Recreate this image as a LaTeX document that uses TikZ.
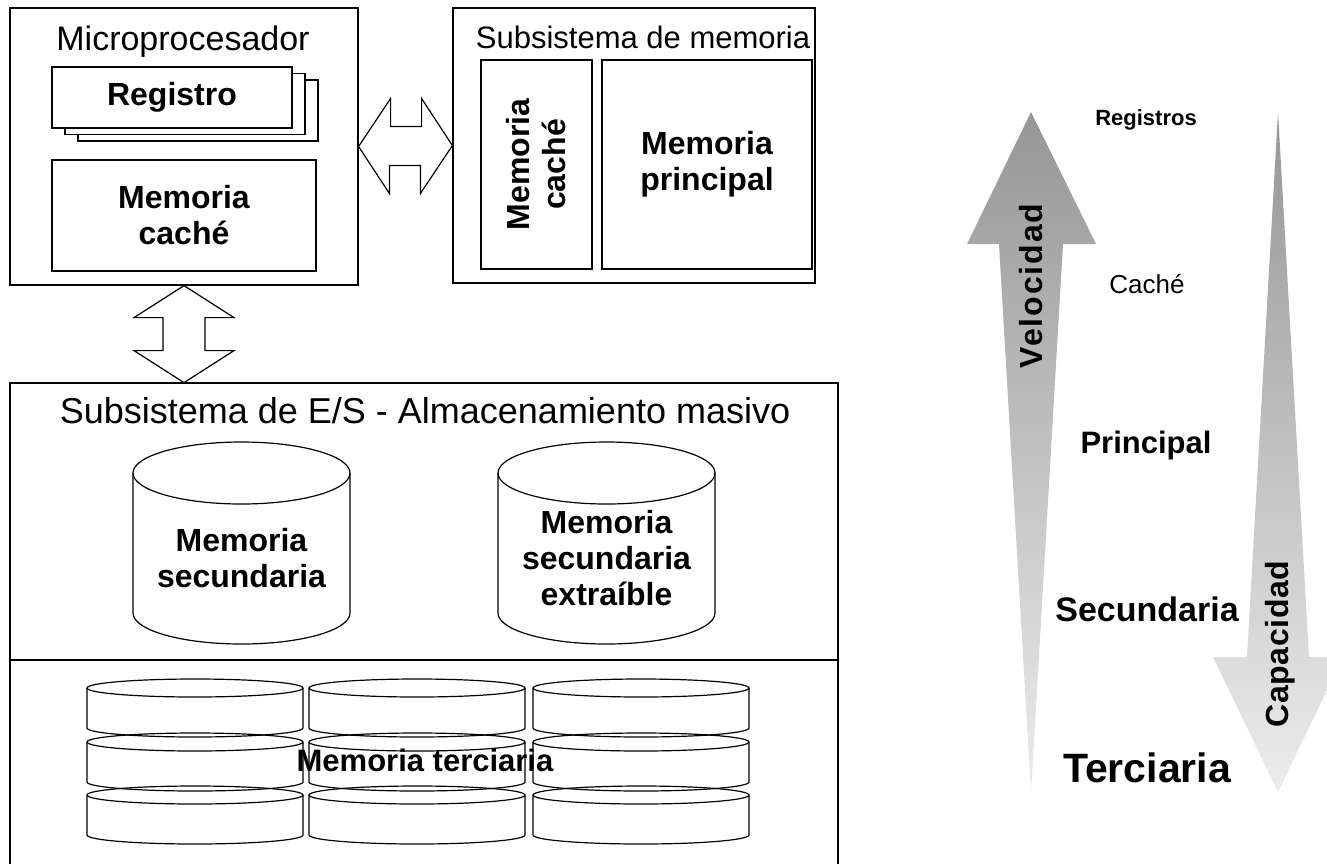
\documentclass[tikz,border=0pt]{standalone}
\usepackage{fontspec}
\setmainfont{Liberation Sans}
\usetikzlibrary{shadows}

\definecolor{grisoscuro}{RGB}{150,150,150}
\definecolor{grisclaro}{RGB}{236,236,236}

% cx, y top, y bottom, rx, ry
\newcommand{\disco}[5]{%
  \draw (#1,#2) ellipse [x radius=#4, y radius=#5];
  \draw (#1-#4,#2) -- (#1-#4,#3)
     arc[start angle=180, end angle=0, x radius=#4, y radius=#5] -- (#1+#4,#2);
}

\begin{document}
\begin{tikzpicture}[x=1pt,y=-1pt,line width=1.2pt,
   box/.style={rectangle,draw,inner sep=0pt},
   title/.style={anchor=base,font=\fontsize{#1}{#1}\selectfont},
   txt/.style={align=center,font=\bfseries\fontsize{32}{36}\selectfont},
   lbl/.style={anchor=base,font=\bfseries\fontsize{#1}{#1}\selectfont}
    ]
  \clip (0,0) rectangle (1327,863);

  % -- microprocesador
  \node[box, minimum width=348, minimum height=277] at (184,146.5) (micro) {};
  \node[title=34] at (183,50) (microtit) {Microprocesador};
  \node[box, txt, fill=white, minimum width=240, minimum height=61,
    double copy shadow={shadow xshift=13pt,shadow yshift=-6.5pt,fill=white,draw=black}]
    at (172,97.5) (reg) {Registro};
  \node[box, txt, minimum width=264, minimum height=111] at (184,215.5) (cache) {Memoria\\caché};

  % -- subsistema de memoria
  \node[box, minimum width=362, minimum height=275] at (634,145.5) (memsub) {};
  \node[title=31] at (643,48) (memtit) {Subsistema de memoria};
  \node[box, minimum width=111, minimum height=209] at (536.5,164.5) (cachev) {};
  \node[txt, rotate=90] at (cachev) (cachevtxt) {Memoria\\caché};
  \node[box, txt, minimum width=210, minimum height=209] at (707,164.5) (ppal) {Memoria\\principal};

  % -- buses
  \draw (micro.east) -- ++(32,-48) -- ++(0,28) -- ++(31,0) -- ++(0,-28) -- (memsub.west)
     -- ++(-32,48) -- ++(0,-28) -- ++(-31,0) -- ++(0,28) -- cycle;
  \draw (micro.south) -- ++(50,32) -- ++(-29,0) -- ++(0,33) -- ++(29,0) -- ++(-50,32)
     -- ++(-50,-32) -- ++(29,0) -- ++(0,-33) -- ++(-29,0) -- cycle;

  % -- subsistema de E/S
  \node[box, minimum width=828, minimum height=520] at (424,643) (es) {};
  \node[title=36] at (425,423) (estit) {Subsistema de E/S - Almacenamiento masivo};
  \draw (es.west |- 0,660) -- (es.east |- 0,660);

  \disco{241.5}{473}{613}{108.5}{31}
  \disco{606.5}{473}{613}{108.5}{31}
  \node[txt] at (241.5,558) (sec) {Memoria\\secundaria};
  \node[txt] at (606.5,558) (secx) {Memoria\\secundaria\\extraíble};

  % -- terciaria
  \foreach \cx in {195,417,641}
    \foreach \ty in {688,742,795}
      {\disco{\cx}{\ty}{\ty+40}{108}{9}}
  \node[txt, font=\bfseries\fontsize{31}{36}\selectfont] at (425,760) (ter) {Memoria terciaria};

  % -- jerarquia
  \shade[top color=grisoscuro, bottom color=grisclaro, line width=0pt]
    (1031,112) -- (1096,244) -- (1063,244) -- (1031,793) -- (999,244) -- (967,244) -- cycle;
  \shade[top color=grisoscuro, bottom color=grisclaro, line width=0pt]
    (1278,112) -- (1309,657) -- (1343,657) -- (1278,792) -- (1213,657) -- (1247,657) -- cycle;
  \node[rotate=90, font=\bfseries\fontsize{32}{32}\selectfont\addfontfeature{LetterSpace=6}]
    at (1031,286) (velo) {Velocidad};
  \node[rotate=90, font=\bfseries\fontsize{32}{32}\selectfont\addfontfeature{LetterSpace=2}]
    at (1280,644) (capa) {Capacidad};

  \node[lbl=22] at (1146,125) (l1) {Registros};
  \node[anchor=base, font=\fontsize{26}{26}\selectfont] at (1147,293) (l2) {Caché};
  \node[lbl=31] at (1146,453) (l3) {Principal};
  \node[lbl=34] at (1147,621) (l4) {Secundaria};
  \node[lbl=41] at (1147,782) (l5) {Terciaria};
\end{tikzpicture}
\end{document}
